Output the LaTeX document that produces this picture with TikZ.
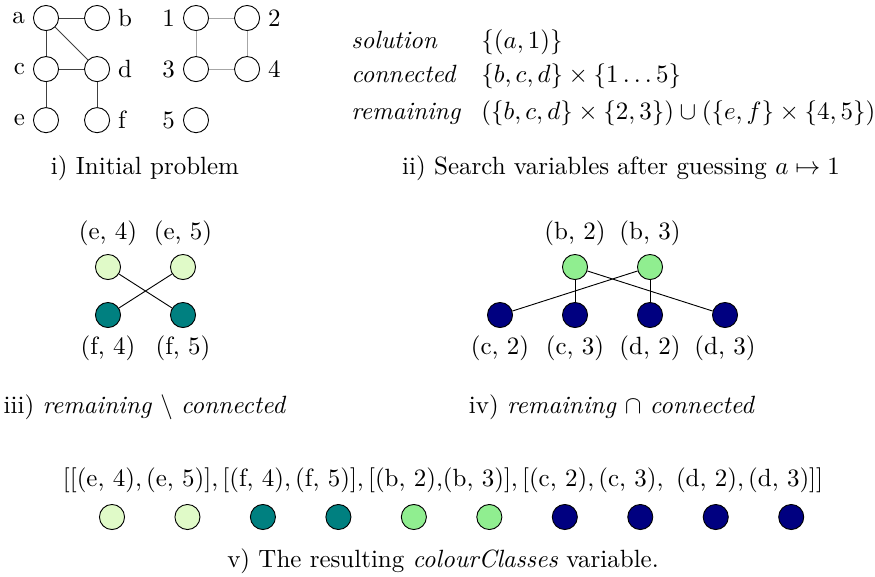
\documentclass[tikz,border=0pt]{standalone}
\usepackage{amsmath}
\usepackage{amssymb}
\usetikzlibrary{positioning}
\definecolor{paleyellow}{RGB}{224,250,200}
\definecolor{softgreen}{RGB}{144,238,144}
\definecolor{tealgreen}{RGB}{0,128,128}
\definecolor{deepnavy}{RGB}{0,0,128}

\begin{document}
\begin{tikzpicture}[
    x=0.4386pt, y=-0.4386pt,
    node distance=11pt,
    every node/.style={font=\fontsize{10.95pt}{13.6pt}\selectfont},
    vertex/.style={circle, draw, minimum size=11pt, inner sep=0pt},
    dot/.style={vertex, fill=#1},
    link/.style={draw=black!75},
    faint/.style={draw=black!35},
    entry/.style={anchor=base west, inner sep=0pt}
]
\useasboundingbox (0,0) rectangle (875,576);
\node[vertex, label=left:a] (a) at (46,18) {};
\node[vertex, right=of a, label=right:b] (b) {};
\node[vertex, below=of a, label=left:c] (c) {};
\node[vertex, right=of c, label=right:d] (d) {};
\node[vertex, below=of c, label=left:e] (e) {};
\node[vertex, right=of e, label=right:f] (f) {};
\draw[link] (a) -- (b);
\draw[link] (a) -- (c);
\draw[link] (a) -- (d);
\draw[link] (c) -- (d);
\draw[link] (c) -- (e);
\draw[link] (d) -- (f);
\node[vertex, label=left:1] (n1) at (196,18) {};
\node[vertex, right=of n1, label=right:2] (n2) {};
\node[vertex, below=of n1, label=left:3] (n3) {};
\node[vertex, right=of n3, label=right:4] (n4) {};
\node[vertex, below=of n3, label=left:5] (n5) {};
\draw[faint] (n1) -- (n2);
\draw[faint] (n1) -- (n3);
\draw[faint] (n2) -- (n4);
\draw[faint] (n3) -- (n4);
\node (cap1) at (145,168) {i) Initial problem};
\node[entry] (sol) at (351,48) {\emph{solution}};
\node[entry] (con) at (351,82) {\emph{connected}};
\node[entry] (rem) at (351,119) {\emph{remaining}};
\node[entry] (solv) at (481,48) {$\{(a,1)\}$};
\node[entry] (conv) at (481,82) {$\{b,c,d\}\times\{1\ldots5\}$};
\node[entry] (remv) at (481,119) {$(\{b,c,d\}\times\{2,3\})\cup(\{e,f\}\times\{4,5\})$};
\node (cap2) at (621,168) {ii) Search variables after guessing $a\mapsto 1$};
\node[dot=paleyellow, label=above:{(e, 4)}] (e4) at (108,267) {};
\node[dot=paleyellow, label=above:{(e, 5)}] (e5) at (183,267) {};
\node[dot=tealgreen, label=below:{(f, 4)}] (f4) at (108,315) {};
\node[dot=tealgreen, label=below:{(f, 5)}] (f5) at (183,315) {};
\draw (e4) -- (f5);
\draw (e5) -- (f4);
\node (cap3) at (145,407) {iii) \emph{remaining} $\setminus$ \emph{connected}};
\node[dot=softgreen, label=above:{(b, 2)}] (b2) at (575,267) {};
\node[dot=softgreen, label=above:{(b, 3)}] (b3) at (650,267) {};
\node[dot=deepnavy, label=below:{(c, 2)}] (c2) at (500,315) {};
\node[dot=deepnavy, label=below:{(c, 3)}] (c3) at (575,315) {};
\node[dot=deepnavy, label=below:{(d, 2)}] (d2) at (650,315) {};
\node[dot=deepnavy, label=below:{(d, 3)}] (d3) at (725,315) {};
\draw (b2) -- (c3);
\draw (b2) -- (d3);
\draw (b3) -- (c2);
\draw (b3) -- (d2);
\node (cap4) at (612,407) {iv) \emph{remaining} $\cap$ \emph{connected}};
\node (classes) at (443,480) {[[(e, 4),\,(e, 5)],\,[(f, 4),\,(f, 5)],\,[(b, 2),(b, 3)],\,[(c, 2),\,(c, 3),\ \,(d, 2),\,(d, 3)]]};
\node[dot=paleyellow] (k1) at (112,517) {};
\node[dot=paleyellow, right=21.7pt of k1] (k2) {};
\node[dot=tealgreen, right=21.7pt of k2] (k3) {};
\node[dot=tealgreen, right=21.7pt of k3] (k4) {};
\node[dot=softgreen, right=21.7pt of k4] (k5) {};
\node[dot=softgreen, right=21.7pt of k5] (k6) {};
\node[dot=deepnavy, right=21.7pt of k6] (k7) {};
\node[dot=deepnavy, right=21.7pt of k7] (k8) {};
\node[dot=deepnavy, right=21.7pt of k8] (k9) {};
\node[dot=deepnavy, right=21.7pt of k9] (k10) {};
\node (cap5) at (443,561) {v) The resulting \emph{colourClasses} variable.};
\end{tikzpicture}
\end{document}
